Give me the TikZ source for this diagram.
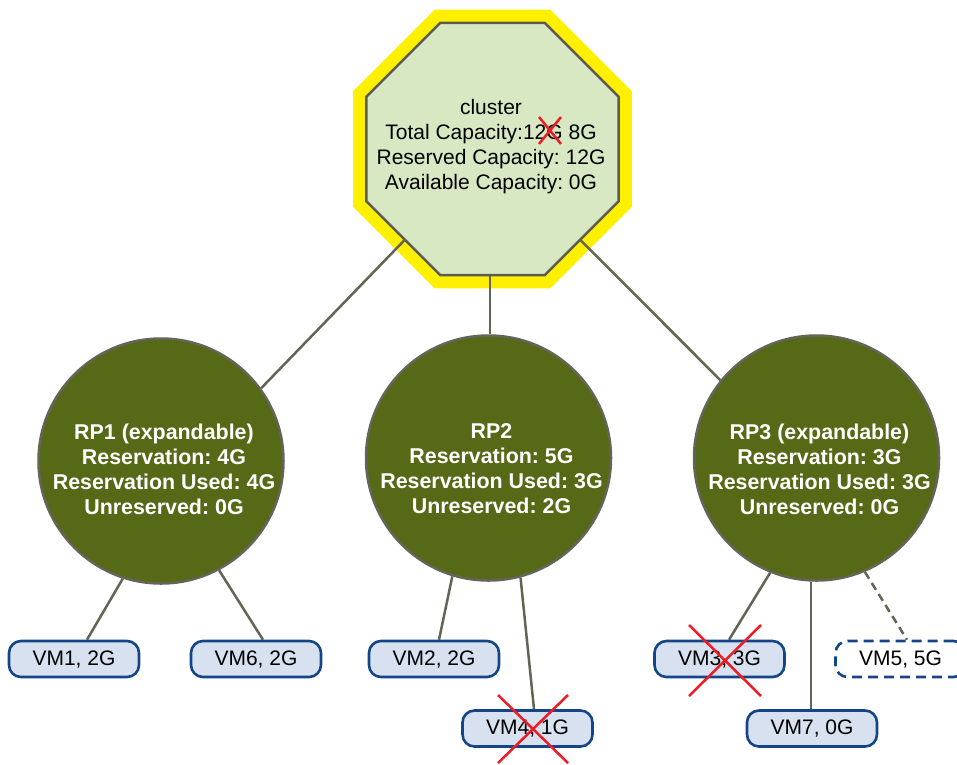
\documentclass[tikz,border=0pt]{standalone}
\usepackage{fontspec}
\setmainfont{Liberation Sans}
\usetikzlibrary{shapes.geometric,backgrounds,calc}
\definecolor{octyellow}{RGB}{255,240,0}
\definecolor{octfill}{RGB}{216,232,194}
\definecolor{octborder}{RGB}{92,92,80}
\definecolor{rpfill}{RGB}{85,105,22}
\definecolor{rpborder}{RGB}{100,100,88}
\definecolor{connc}{RGB}{100,100,85}
\definecolor{vmfill}{RGB}{216,225,240}
\definecolor{vmborder}{RGB}{20,70,135}
\definecolor{redx}{RGB}{237,28,36}
\begin{document}
\begin{tikzpicture}[x=1pt,y=-1pt,
  octbox/.style={regular polygon, regular polygon sides=8, minimum size=273pt,
    inner sep=0pt, draw=octborder, line width=2.5pt, fill=octfill},
  halo/.style={draw=octyellow, line width=24pt, miter limit=10},
  bigtext/.style={font=\fontsize{21}{25}\selectfont\frenchspacing, align=center, inner sep=0pt},
  rpbox/.style={circle, minimum size=245pt, inner sep=0pt, draw=rpborder,
    line width=2.5pt, fill=rpfill},
  rptext/.style={bigtext, text=white, font=\fontsize{21.4}{25}\selectfont\bfseries\frenchspacing},
  vmbox/.style={rectangle, rounded corners=12pt, minimum width=130pt, minimum height=36pt,
    inner sep=0pt, draw=vmborder, line width=2.6pt, fill=vmfill,
    font=\fontsize{21}{25}\selectfont\frenchspacing},
  vmdash/.style={vmbox, fill=white, dash pattern=on 10pt off 6pt},
  conn/.style={draw=connc, line width=2.5pt},
  xmark/.style={draw=redx, line width=2.5pt}]
\useasboundingbox (0,0) rectangle (957,764);

% cluster
\node[octbox] (oct) at (492.5,149) {};
\node[bigtext] (octt) at (491,147) {cluster\\Total Capacity:12G 8G\\Reserved Capacity: 12G\\Available Capacity: 0G};

% resource pools
\node[rpbox] (rp1) at (161,461) {};
\node[rptext] (rp1t) at (164,469) {RP1 (expandable)\\Reservation: 4G\\Reservation Used: 4G\\Unreserved: 0G};
\node[rpbox] (rp2) at (488.5,458) {};
\node[rptext] (rp2t) at (491.5,469) {RP2\\Reservation: 5G\\Reservation Used: 3G\\Unreserved: 2G};
\node[rpbox] (rp3) at (816.5,458) {};
\node[rptext] (rp3t) at (819.5,469.5) {RP3 (expandable)\\Reservation: 3G\\Reservation Used: 3G\\Unreserved: 0G};

% VMs
\node[vmbox] (vm1) at (74,659) {VM1, 2G};
\node[vmbox] (vm6) at (256,659) {VM6, 2G};
\node[vmbox] (vm2) at (434,659) {VM2, 2G};
\node[vmbox] (vm4) at (527.5,728.5) {VM4, 1G};
\node[vmbox] (vm3) at (719.5,659) {VM3, 3G};
\node[vmbox] (vm7) at (812,728.5) {VM7, 0G};
\node[vmdash] (vm5) at (900.5,659) {VM5, 5G};

% yellow halo and connectors, behind the shapes
\begin{pgfonlayer}{background}
\path[halo] (oct.corner 1) -- (oct.corner 2) -- (oct.corner 3) -- (oct.corner 4)
  -- (oct.corner 5) -- (oct.corner 6) -- (oct.corner 7) -- (oct.corner 8) -- cycle;
\draw[conn] (oct.226.3) -- (rp1.36);
\draw[conn] ([xshift=-2.5pt]oct.south) -- ([xshift=-2.5pt]oct.south |- rp2.north);
\draw[conn] (oct.-46.1) -- (rp3.141);
\draw[conn] (rp1.252) -- ([xshift=13pt]vm1.north);
\draw[conn] (rp1.298.5) -- ([xshift=7pt]vm6.north);
\draw[conn] (rp2.253.4) -- ([xshift=5pt]vm2.north);
\draw[conn] (rp2.285.3) -- ([xshift=6.5pt]vm4.north);
\draw[conn] (rp3.248) -- ([xshift=9.5pt]vm3.north);
\draw[conn] ([xshift=-1pt]vm7.north) -- ([xshift=-1pt]vm7.north |- rp3.south);
\draw[conn, dash pattern=on 8pt off 5pt] (rp3.293.3) -- ([xshift=6.5pt]vm5.north);
\end{pgfonlayer}

% red crosses
\draw[xmark] ($(octt)+(48,-30)$) -- ($(octt)+(70,-3)$);
\draw[xmark] ($(octt)+(70,-30)$) -- ($(octt)+(48,-3)$);
\draw[xmark] ($(vm4)+(-29.5,-33.5)$) -- ($(vm4)+(40.5,34.5)$);
\draw[xmark] ($(vm4)+(40.5,-33.5)$) -- ($(vm4)+(-29.5,34.5)$);
\draw[xmark] ($(vm3)+(-30.5,-34)$) -- ($(vm3)+(41.5,37)$);
\draw[xmark] ($(vm3)+(41.5,-34)$) -- ($(vm3)+(-30.5,37)$);
\end{tikzpicture}
\end{document}
